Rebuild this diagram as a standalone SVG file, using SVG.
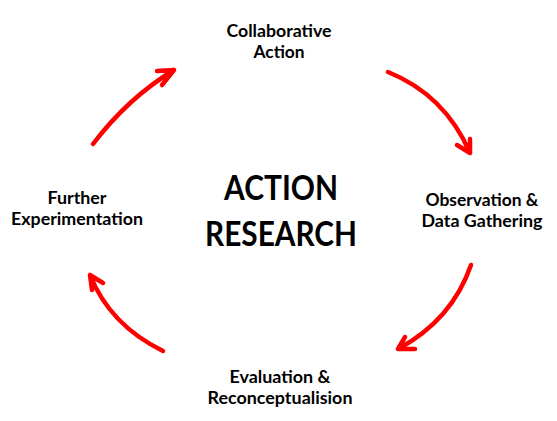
<svg xmlns="http://www.w3.org/2000/svg" width="557" height="421" viewBox="0 0 557 421">
<style>
.lbl{font-family:Lato,"Open Sans",sans-serif;font-weight:bold;font-size:16.5px;fill:#000;text-anchor:middle}
.big{font-family:Lato,"Open Sans",sans-serif;font-weight:bold;font-size:35px;fill:#000;text-anchor:middle}
.arr{fill:none;stroke:#ff0000;stroke-width:4.5;stroke-linecap:round;stroke-linejoin:round}
</style>
<rect width="557" height="421" fill="#fff"/>
<g id="connectors">
<path class="arr" d="M388,72 Q445,95 470,153 M457,145 L470,153 L470,139"/>
<path class="arr" d="M471,265 Q452,320 398,349 M405,337 L398,349 L415,349"/>
<path class="arr" d="M163,351 Q110,325 90,275 M103,283 L90,275 L92,290"/>
<path class="arr" d="M93,144 Q128,98 174,70 M157,71 L174,70 L162,85"/>
</g>
<g id="center">
<text class="big" x="281" y="200" textLength="114" lengthAdjust="spacingAndGlyphs">ACTION</text>
<text class="big" x="281" y="246" textLength="152" lengthAdjust="spacingAndGlyphs">RESEARCH</text>
</g>
<g id="collaborative-action">
<text class="lbl" x="279" y="37" textLength="105" lengthAdjust="spacingAndGlyphs">Collaborative</text>
<text class="lbl" x="279" y="58" textLength="51" lengthAdjust="spacingAndGlyphs">Action</text>
</g>
<g id="observation">
<text class="lbl" x="482" y="206" textLength="113" lengthAdjust="spacingAndGlyphs">Observation &amp;</text>
<text class="lbl" x="482" y="227" textLength="121" lengthAdjust="spacingAndGlyphs">Data Gathering</text>
</g>
<g id="evaluation">
<text class="lbl" x="280" y="383" textLength="101" lengthAdjust="spacingAndGlyphs">Evaluation &amp;</text>
<text class="lbl" x="280" y="404" textLength="145" lengthAdjust="spacingAndGlyphs">Reconceptualision</text>
</g>
<g id="further">
<text class="lbl" x="77" y="204" textLength="59" lengthAdjust="spacingAndGlyphs">Further</text>
<text class="lbl" x="77" y="225" textLength="132" lengthAdjust="spacingAndGlyphs">Experimentation</text>
</g>
</svg>
